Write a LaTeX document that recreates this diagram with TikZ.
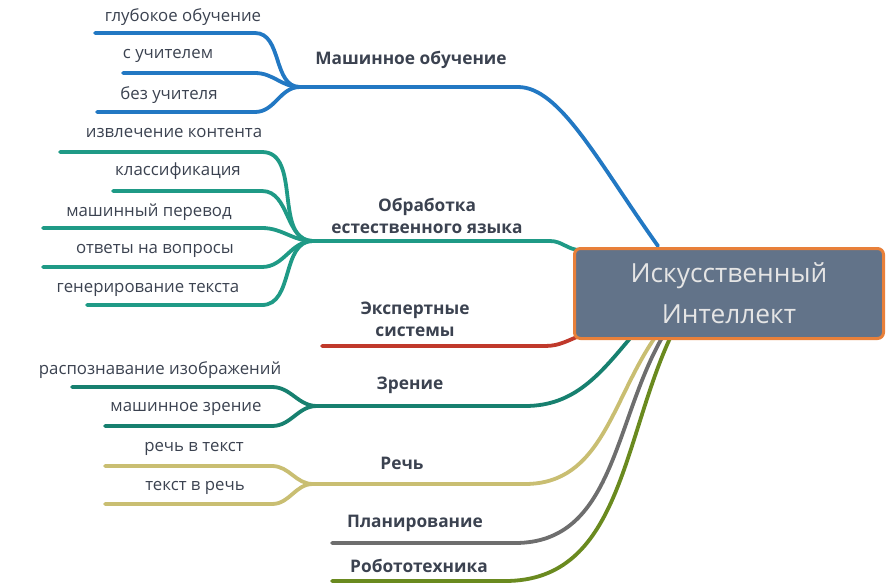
\documentclass[tikz,border=0pt]{standalone}
\usepackage{fontspec}
\setmainfont{Open Sans}
\usepackage{tikz}
\usetikzlibrary{positioning}

\definecolor{txt}{HTML}{3B4250}
\definecolor{mlblue}{HTML}{2278C3}
\definecolor{nlpteal}{HTML}{1F9A86}
\definecolor{visteal}{HTML}{17806F}
\definecolor{exred}{HTML}{C0392B}
\definecolor{spyellow}{HTML}{C9BE72}
\definecolor{plgray}{HTML}{6E6E6E}
\definecolor{rbgreen}{HTML}{6A8A1F}
\definecolor{aislate}{HTML}{627389}
\definecolor{aiorange}{HTML}{E8803A}

\begin{document}
\begin{tikzpicture}[x=1pt, y=-1pt,
    leaf/.style={font=\fontsize{16.8}{19}\selectfont, text=txt, inner sep=1pt},
    topic/.style={font=\bfseries\fontsize{17.3}{22}\selectfont, text=txt,
      align=center, inner sep=1pt},
    twig/.style={line width=3.8pt, line cap=round},
    corebox/.style={rectangle, rounded corners=6pt, draw=aiorange,
      line width=3pt, fill=aislate, text=white!90!black, align=center,
      font=\fontsize{26.3}{41}\selectfont, minimum width=309pt,
      minimum height=90pt}]
  \useasboundingbox (0,0) rectangle (889,584);

  % fork points and branch ends
  \coordinate (ml_fork) at (300,87);
  \coordinate (nlp_fork) at (313,241);
  \coordinate (vis_fork) at (317,406);
  \coordinate (sp_fork) at (313,484);
  \coordinate (ex_start) at (322,346);
  \coordinate (pl_start) at (332,543);
  \coordinate (rb_start) at (332,581);

  \coordinate (ml_end) at (658,246);
  \coordinate (nlp_end) at (580,250);
  \coordinate (ex_end) at (582,335);
  \coordinate (vis_end) at (632,336);
  \coordinate (sp_end) at (656,336);
  \coordinate (pl_end) at (663,336);
  \coordinate (rb_end) at (671,336);

  % leaf ends
  \coordinate (gl) at (95,33);
  \coordinate (su) at (123,73);
  \coordinate (bu) at (97,112);
  \coordinate (ik) at (60,152);
  \coordinate (kl) at (113,191);
  \coordinate (mp) at (43,228);
  \coordinate (ov) at (43,267);
  \coordinate (gt) at (87,305);
  \coordinate (ri) at (72,387);
  \coordinate (mz) at (105,426);
  \coordinate (rt) at (105,466);
  \coordinate (tr) at (105,504);

  % main branches
  \draw[twig, mlblue] (ml_fork) -- (518,87)
    .. controls (560,87) and (598,162) .. (ml_end);
  \draw[twig, nlpteal] (nlp_fork) -- (550,241) to[out=0, in=180] (nlp_end);
  \draw[twig, exred] (ex_start) -- (545,346) to[out=0, in=200] (ex_end);
  \draw[twig, visteal] (vis_fork) -- (525,406) to[out=0, in=230] (vis_end);
  \draw[twig, spyellow] (sp_fork) -- (525,484) to[out=0, in=235] (sp_end);
  \draw[twig, plgray] (pl_start) -- (515,543) to[out=0, in=240] (pl_end);
  \draw[twig, rbgreen] (rb_start) -- (505,581) to[out=0, in=245] (rb_end);

  % leaves
  \foreach \lf in {gl, su, bu}
    \draw[twig, mlblue] (\lf) -- (255,0 |- \lf) to[out=0, in=180] (ml_fork);
  \foreach \lf in {ik, kl, mp, ov, gt}
    \draw[twig, nlpteal] (\lf) -- (262,0 |- \lf) to[out=0, in=180] (nlp_fork);
  \foreach \lf in {ri, mz}
    \draw[twig, visteal] (\lf) -- (272,0 |- \lf) to[out=0, in=180] (vis_fork);
  \foreach \lf in {rt, tr}
    \draw[twig, spyellow] (\lf) -- (272,0 |- \lf) to[out=0, in=180] (sp_fork);

  % centre
  \node[corebox] (ai) at (729,293.5) {Искусственный\\Интеллект};

  % branch labels
  \node[topic] (ml) at (411,60) {Машинное обучение};
  \node[topic] (nlp) at (427,216) {Обработка\\естественного языка};
  \node[topic] (ex) at (415,319) {Экспертные\\системы};
  \node[topic] (vis) at (410,385) {Зрение};
  \node[topic] (sp) at (402,463) {Речь};
  \node[topic] (pl) at (415,523) {Планирование};
  \node[topic] (rb) at (419,566) {Робототехника};

  % leaf labels
  \node[leaf] (gl_t) at (183,17) {глубокое обучение};
  \node[leaf] (su_t) at (168,56) {с учителем};
  \node[leaf] (bu_t) at (169,95) {без учителя};
  \node[leaf] (ik_t) at (174,133) {извлечение контента};
  \node[leaf] (kl_t) at (178,171) {классификация};
  \node[leaf] (mp_t) at (149,212) {машинный перевод};
  \node[leaf] (ov_t) at (155,251) {ответы на вопросы};
  \node[leaf] (gt_t) at (148,290) {генерирование текста};
  \node[leaf] (ri_t) at (160,370) {распознавание изображений};
  \node[leaf] (mz_t) at (186,409) {машинное зрение};
  \node[leaf] (rt_t) at (194,449) {речь в текст};
  \node[leaf] (tr_t) at (195,488) {текст в речь};
\end{tikzpicture}
\end{document}
